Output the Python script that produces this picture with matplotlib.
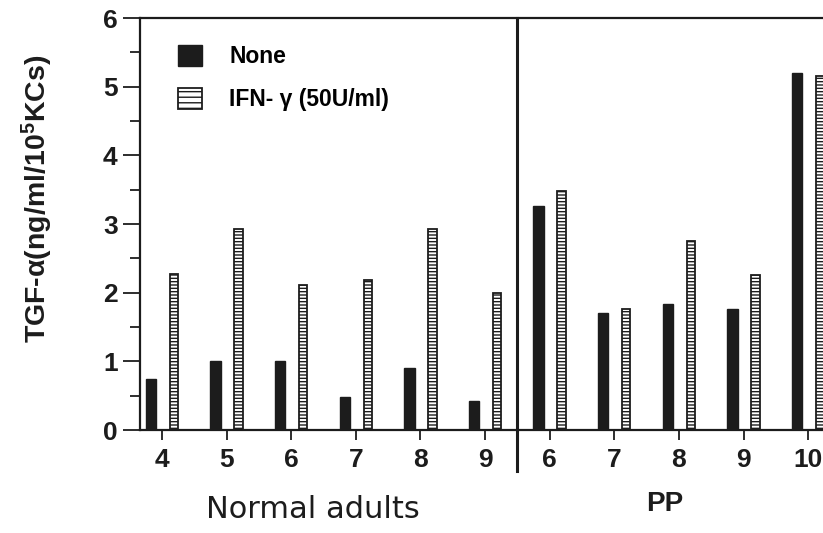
import numpy as np
import matplotlib
matplotlib.use("Agg")
import matplotlib.pyplot as plt
from matplotlib.patches import Patch

# data
normal_ids = ["4", "5", "6", "7", "8", "9"]
pp_ids = ["6", "7", "8", "9", "10"]
none_normal = [0.75, 1.0, 1.0, 0.48, 0.9, 0.43]
ifn_normal = [2.27, 2.93, 2.12, 2.18, 2.93, 2.0]
none_pp = [3.26, 1.70, 1.83, 1.76, 5.2]
ifn_pp = [3.48, 1.77, 2.76, 2.26, 5.15]

labels = normal_ids + pp_ids
none_vals = none_normal + none_pp
ifn_vals = ifn_normal + ifn_pp

plt.rcParams['font.family'] = ['Liberation Sans', 'DejaVu Sans']
plt.rcParams['font.weight'] = 'bold'
plt.rcParams['mathtext.fontset'] = 'custom'
plt.rcParams['mathtext.bf'] = 'Liberation Sans:bold'
plt.rcParams['mathtext.rm'] = 'Liberation Sans:bold'
plt.rcParams['mathtext.default'] = 'bf'
plt.rcParams['hatch.linewidth'] = 1.0

ink = '#1c1c1c'

fig = plt.figure(figsize=(8.23, 5.33), dpi=100)
ax = fig.add_axes([0.170, 0.193, 0.830, 0.773])

x = np.arange(len(labels))
ax.bar(x - 0.17, none_vals, width=0.16, color=ink, edgecolor=ink, linewidth=1.0)
ax.bar(x + 0.185, ifn_vals, width=0.13, color='white', edgecolor=ink,
       linewidth=1.3, hatch='-----')

ax.set_xlim(-0.34, 10.23)
ax.set_ylim(0, 6)

# divider between groups
split = len(normal_ids) - 0.5
ax.plot([split, split], [6, -0.6], color=ink, lw=2.2, clip_on=False)

ax.set_xticks(x)
ax.set_xticklabels(labels, fontsize=19, fontweight='bold', color=ink)
ax.set_yticks(range(7))
ax.set_yticks(np.arange(0.5, 6, 1.0), minor=True)
ax.set_yticklabels([str(i) for i in range(7)], fontsize=19, fontweight='bold', color=ink)
ax.tick_params(axis='y', which='major', length=12, width=1.3, color=ink, pad=4)
ax.tick_params(axis='y', which='minor', length=7, width=1.3, color=ink)
ax.tick_params(axis='x', length=7, width=1.3, color=ink, pad=6)

ax.spines['right'].set_visible(False)
for s in ['left', 'top', 'bottom']:
    ax.spines[s].set_linewidth(1.6)
    ax.spines[s].set_color(ink)

handles = [Patch(facecolor=ink, edgecolor=ink),
           Patch(facecolor='white', edgecolor=ink, hatch='---', linewidth=1.3)]
ax.legend(handles, ['None', 'IFN- γ (50U/ml)'], loc='upper left',
          bbox_to_anchor=(0.025, 0.985), frameon=False, handlelength=1.05,
          handleheight=1.05, handletextpad=1.2, labelspacing=0.85,
          prop={'weight': 'bold', 'size': 16.5})

fig.text(0.045, 0.627, 'TGF-α(ng/ml/10$^{5}$KCs)', rotation=90, ha='center',
         va='center', fontsize=20.5, fontweight='bold', color=ink)
fig.text(0.380, 0.045, 'Normal adults', ha='center', va='center', fontsize=22,
         fontweight='normal', family='DejaVu Sans', color=ink)
fig.text(0.808, 0.054, 'PP', ha='center', va='center', fontsize=20,
         fontweight='bold', color=ink)

fig.savefig('out.png', dpi=100)
